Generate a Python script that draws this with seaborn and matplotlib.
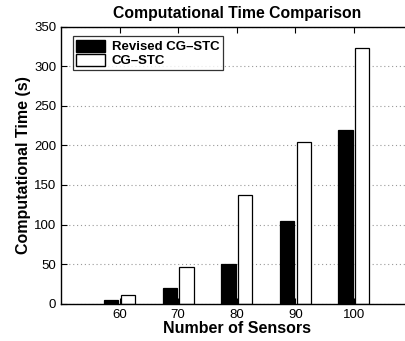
import matplotlib
matplotlib.use("Agg")
import matplotlib.pyplot as plt
import seaborn as sns
import pandas as pd
from matplotlib.patches import Patch

sensors = [60, 70, 80, 90, 100]
revised = [4.3, 19.5, 50, 104.5, 219.6]
original = [10.6, 46, 137.4, 204, 323]
series_names = ["Revised CG\u2013STC", "CG\u2013STC"]
yticks = [0, 50, 100, 150, 200, 250, 300, 350]

df = pd.DataFrame({
    "Sensors": sensors * 2,
    "Time": revised + original,
    "Method": [series_names[0]] * 5 + [series_names[1]] * 5,
})

sns.set_style("ticks")
plt.rcParams['font.family'] = ['Liberation Sans', 'DejaVu Sans']
plt.rcParams.update({"text.color": "black", "axes.labelcolor": "black",
                     "xtick.color": "black", "ytick.color": "black"})

fig = plt.figure(figsize=(4.06, 3.41), dpi=100)
ax = fig.add_axes([61 / 406, 1 - 303.7 / 341, 351.5 / 406, 277 / 341])

sns.barplot(data=df, x="Sensors", y="Time", hue="Method", native_scale=True,
            palette=["black", "white"], edgecolor="black", linewidth=0.9,
            width=0.57, gap=0.14, ax=ax, legend=False)

ax.set_xlim(50, 110)
ax.set_ylim(0, 350)
ax.set_xticks(sensors)
ax.set_yticks(yticks)
ax.yaxis.grid(True, linestyle=(0, (1, 2.5)), color="#999999", linewidth=0.8)
ax.set_axisbelow(True)
ax.tick_params(direction="in", top=True, right=True, length=4, labelsize=9.5,
               width=0.8, colors="black")
for s in ax.spines.values():
    s.set_linewidth(1.0)
    s.set_color("black")

ax.set_xlabel("Number of Sensors", fontsize=11.5, fontweight="bold", labelpad=0, color="black")
ax.set_ylabel("Computational Time (s)", fontsize=11.5, fontweight="bold", labelpad=2, color="black")
ax.set_title("Computational Time Comparison", fontsize=11.3, fontweight="bold", pad=6,
             x=(237 - 61) / 351.5, color="black")

handles = [Patch(facecolor="black", edgecolor="black"),
           Patch(facecolor="white", edgecolor="black")]
leg = ax.legend(handles, series_names, loc="upper left", bbox_to_anchor=(0.034, 0.965),
                frameon=True, fancybox=False, edgecolor="black",
                prop={"weight": "bold", "size": 9.5}, handlelength=2.2, handleheight=1.0,
                borderpad=0.25, labelspacing=0.05, handletextpad=0.5, borderaxespad=0)
leg.get_frame().set_linewidth(0.9)
for t in leg.get_texts():
    t.set_color("black")

fig.savefig("out.png", dpi=100)
